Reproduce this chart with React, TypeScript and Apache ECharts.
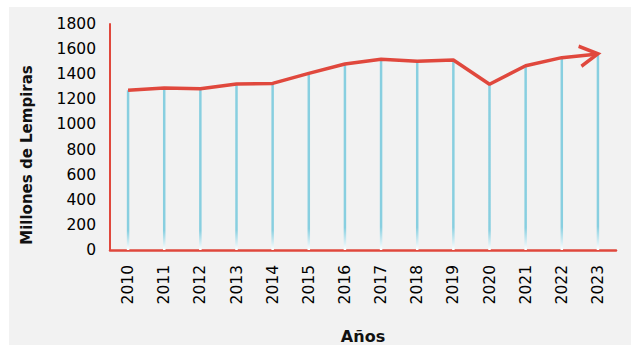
import React, { useEffect, useRef } from "react";
import * as echarts from "echarts";

const years = ["2010","2011","2012","2013","2014","2015","2016","2017","2018","2019","2020","2021","2022","2023"];
const values = [1272, 1290, 1285, 1322, 1327, 1407, 1481, 1519, 1503, 1513, 1320, 1468, 1532, 1561];
const yTicks = { min: 0, max: 1800, interval: 200 };
const yName = "Millones de Lempiras";
const xName = "Años";

const RED = "#e0483d";
const CYAN = "#88cfe0";
const FONT = "DejaVu Sans";

export default function App() {
  const ref = useRef<HTMLDivElement>(null);
  useEffect(() => {
    if (!ref.current) return;
    const chart = echarts.init(ref.current, null, { renderer: "svg" });
    const lineData = values.map((v, i) =>
      i === values.length - 1
        ? {
            value: v,
            symbol: "path://M0,0 L10,5 L0,10",
            symbolSize: [18, 20],
            symbolRotate: 8,
            symbolOffset: [-9, 1],
            itemStyle: { color: "none", borderColor: RED, borderWidth: 3.5 },
          }
        : { value: v, symbol: "none" }
    );
    chart.setOption({
      animation: false,
      backgroundColor: "#f2f2f2",
      grid: { left: 101, top: 17, right: 15, bottom: 95, containLabel: false, outerBoundsMode: "none" },
      xAxis: {
        type: "category",
        data: years,
        boundaryGap: true,
        name: xName,
        nameLocation: "middle",
        nameGap: 78,
        nameMoveOverlap: false,
        nameTextStyle: { fontFamily: FONT, fontSize: 16, fontWeight: "bold", color: "#111" },
        axisLine: { show: true, lineStyle: { color: RED, width: 2.5 } },
        axisTick: { show: false },
        axisLabel: { rotate: 90, margin: 15, color: "#000", fontFamily: FONT, fontSize: 15.5 },
        splitLine: { show: false },
      },
      yAxis: {
        type: "value",
        min: yTicks.min,
        max: yTicks.max,
        interval: yTicks.interval,
        name: yName,
        nameLocation: "middle",
        nameGap: 76,
        nameMoveOverlap: false,
        nameTextStyle: {
          fontFamily: FONT,
          fontSize: 15,
          fontWeight: "bold",
          color: "#111",
          padding: [0, 36, 0, 0],
        },
        axisLine: { show: true, lineStyle: { color: RED, width: 2 } },
        axisTick: { show: false },
        axisLabel: {
          margin: 14,
          color: "#000",
          fontFamily: FONT,
          fontSize: 15.5,
          formatter: (v: number) => String(v),
        },
        splitLine: { show: false },
      },
      series: [
        {
          type: "bar",
          data: values,
          barWidth: 2.5,
          itemStyle: {
            color: new echarts.graphic.LinearGradient(0, 0, 0, 1, [
              { offset: 0, color: CYAN },
              { offset: 0.88, color: CYAN },
              { offset: 1, color: "#ffffff" },
            ]),
          },
          z: 3,
        },
        {
          type: "line",
          data: lineData,
          showSymbol: true,
          lineStyle: { color: RED, width: 3.5 },
          itemStyle: { color: RED },
          z: 4,
        },
      ],
    });
    return () => chart.dispose();
  }, []);
  return (
    <div
      ref={ref}
      style={{ position: "absolute", left: 9, top: 7, width: 622, height: 338 }}
    />
  );
}
